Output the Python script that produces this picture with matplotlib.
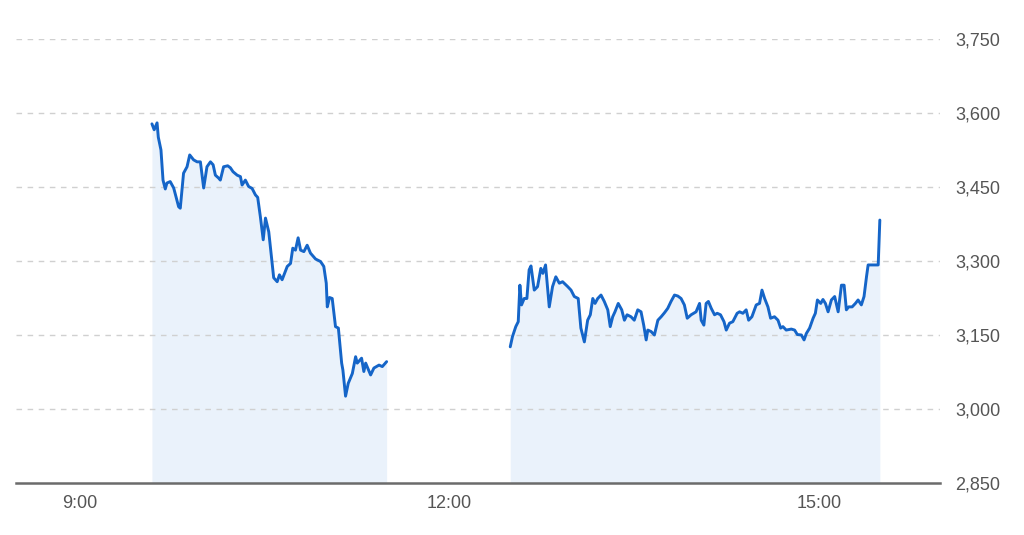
import matplotlib
matplotlib.use("Agg")
import matplotlib.pyplot as plt
from matplotlib.ticker import FixedLocator, FuncFormatter

# minutes after 9:00 and index values
am_minutes = [35.2, 36.3, 37.7, 38.3, 39.6, 40.6, 41.7, 42.5, 44.1, 45.8, 48.2, 49.0,
              50.6, 52.3, 53.6, 55.5, 57.2, 58.8, 60.4, 62.0, 63.7, 65.0, 66.1, 67.7,
              68.5, 70.1, 72.1, 73.4, 74.7, 76.7, 78.3, 79.1, 80.7, 82.3, 84.0, 85.6,
              86.7, 88.0, 89.4, 90.5, 92.1, 94.5, 96.2, 97.3, 98.6, 101.1, 102.7, 103.8,
              105.1, 106.4, 107.6, 109.2, 110.8, 112.4, 114.9, 117.3, 118.9, 120.1, 120.6,
              121.7, 123.0, 124.6, 126.0, 127.6, 128.2, 129.5, 130.8, 132.8, 134.4, 135.2,
              137.3, 138.4, 139.3, 141.7, 143.3, 145.8, 147.4, 149.5]
am_values = [3578, 3566, 3580, 3551, 3525, 3464, 3446, 3458, 3461, 3448, 3410, 3407,
             3478, 3491, 3515, 3505, 3501, 3501, 3448, 3491, 3501, 3495, 3474, 3468,
             3464, 3491, 3493, 3489, 3481, 3474, 3471, 3454, 3464, 3451, 3447, 3434,
             3429, 3390, 3343, 3387, 3359, 3266, 3258, 3272, 3262, 3289, 3295, 3326,
             3322, 3347, 3322, 3319, 3332, 3316, 3304, 3299, 3289, 3255, 3207,
             3226, 3224, 3167, 3164, 3093, 3079, 3026, 3052, 3072, 3106, 3093,
             3103, 3076, 3093, 3069, 3083, 3089, 3086, 3096]

pm_minutes = [209.7, 210.8, 212.4, 213.6, 214.4, 215.2, 216.5, 217.8, 218.9, 219.8, 221.4,
              223.0, 224.6, 225.6, 226.9, 228.7, 230.3, 231.9, 233.6, 235.2, 237.7, 239.3,
              240.9, 242.8, 244.1, 245.8, 247.4, 248.7, 249.9, 251.0, 252.3, 253.9, 255.5,
              257.2, 258.4, 259.6, 260.7, 262.3, 264.0, 265.3, 266.6, 268.5, 270.1, 271.8,
              273.4, 274.7, 275.9, 276.7, 278.3, 279.9, 281.6, 283.2, 284.8, 286.4, 288.0,
              289.7, 291.3, 292.9, 294.5, 295.9, 297.8, 300.2, 301.9, 302.7, 304.0, 305.1,
              306.2, 307.6, 309.2, 310.5, 312.1, 313.8, 314.9, 316.5, 318.1, 320.2, 321.4,
              323.0, 324.6, 325.8, 327.4, 329.5, 331.1, 332.3, 333.6, 335.2, 336.5, 338.4,
              340.1, 341.4, 342.5, 344.1, 346.6, 348.2, 349.5, 351.5, 352.8, 353.9, 355.5,
              357.2, 358.3, 359.3, 360.9, 362.0, 363.2, 364.5, 366.1, 367.7, 369.4, 371.0,
              372.3, 373.4, 374.5, 376.2, 377.8, 379.1, 380.7, 382.0, 383.2, 384.0, 388.9,
              389.7]
pm_values = [3126, 3147, 3167, 3177, 3251, 3211, 3224, 3224, 3282, 3290, 3241,
             3248, 3285, 3275, 3292, 3207, 3248, 3268, 3255, 3258, 3248, 3241,
             3228, 3224, 3164, 3136, 3180, 3191, 3224, 3214, 3224, 3231, 3218,
             3201, 3167, 3187, 3197, 3214, 3201, 3180, 3191, 3187, 3180, 3201,
             3197, 3170, 3140, 3160, 3157, 3150, 3180, 3187, 3195, 3204, 3218,
             3231, 3229, 3224, 3211, 3184, 3191, 3197, 3214, 3180, 3170, 3214,
             3218, 3204, 3191, 3194, 3191, 3177, 3160, 3174, 3177, 3194, 3197,
             3194, 3201, 3180, 3187, 3211, 3214, 3241, 3224, 3207, 3184, 3187,
             3180, 3164, 3167, 3160, 3162, 3160, 3151, 3150, 3140, 3153, 3164,
             3184, 3194, 3221, 3214, 3222, 3214, 3197, 3221, 3228, 3197, 3251,
             3251, 3201, 3207, 3207, 3214, 3221, 3211, 3228, 3268, 3292, 3292,
             3383]

x_ticks = [0, 180, 360]
x_tick_labels = ["9:00", "12:00", "15:00"]
y_ticks = [2850, 3000, 3150, 3300, 3450, 3600, 3750]

line_color = "#1565c8"
fill_color = "#eaf2fb"
text_color = "#555555"

plt.rcParams["font.family"] = ["Liberation Sans", "DejaVu Sans"]

fig = plt.figure(figsize=(10.24, 5.35), dpi=100)
ax = fig.add_axes([16 / 1024, 1 - 483 / 535, (940 - 16) / 1024, (483 - 39) / 535])

for xs, ys in ((am_minutes, am_values), (pm_minutes, pm_values)):
    ax.fill_between(xs, ys, y_ticks[0], color=fill_color, linewidth=0, zorder=1)
    ax.plot(xs, ys, color=line_color, linewidth=2.1, zorder=3,
            solid_joinstyle="round", solid_capstyle="round")

ax.set_xlim(-31, 419)
ax.set_ylim(y_ticks[0], y_ticks[-1])

ax.yaxis.set_major_locator(FixedLocator(y_ticks))
ax.yaxis.set_major_formatter(FuncFormatter(lambda v, p: f"{int(v):,}"))
ax.yaxis.tick_right()
ax.xaxis.set_major_locator(FixedLocator(x_ticks))
ax.set_xticklabels(x_tick_labels)

ax.tick_params(axis="y", length=0, pad=11, labelsize=13, labelcolor=text_color)
ax.tick_params(axis="x", length=0, pad=9, labelsize=13, labelcolor=text_color)

for yv in y_ticks[1:]:
    ax.axhline(yv, color="#d0d0d0", linewidth=1.0, linestyle=(0, (4, 4)), zorder=2)

for s in ("top", "left", "right"):
    ax.spines[s].set_visible(False)
ax.spines["bottom"].set_color("#6b6b6b")
ax.spines["bottom"].set_linewidth(1.8)
ax.spines["bottom"].set_zorder(4)

fig.savefig("out.png", dpi=100, facecolor="white")
